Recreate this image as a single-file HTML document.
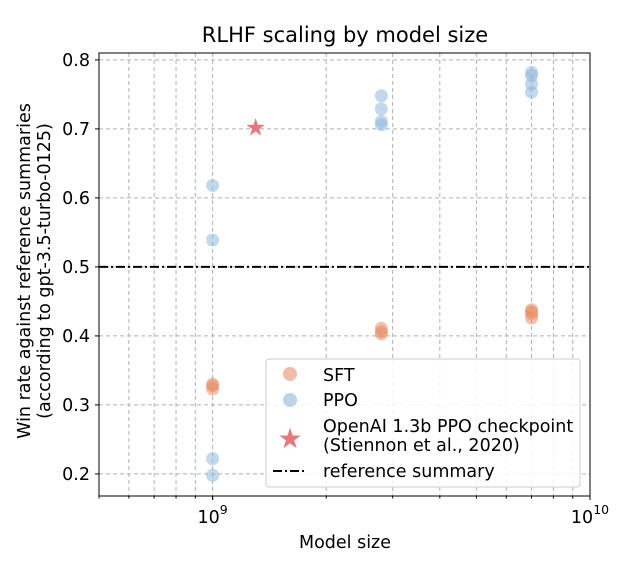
<!DOCTYPE html>
<html><head><meta charset="utf-8"><style>
body{margin:0;background:#fff}
svg{display:block;font-family:"DejaVu Sans","Liberation Sans",sans-serif}
</style></head><body>
<svg id="chart" width="626" height="564" viewBox="0 0 626 564">
<rect width="626" height="564" fill="#fff"/>
<text x="345" y="42" font-size="21" text-anchor="middle">RLHF scaling by model size</text>
<g id="grid"></g>
<g id="marks"></g>
<g id="axes"></g>
<text x="345" y="548" font-size="17.5" text-anchor="middle">Model size</text>
<text transform="translate(30,271) rotate(-90)" font-size="17.5" text-anchor="middle"><tspan x="0" dy="0">Win rate against reference summaries</tspan><tspan x="0" dy="20">(according to gpt-3.5-turbo-0125)</tspan></text>
<g>
<rect x="266" y="359" width="314" height="128" rx="3" fill="#fff" fill-opacity="0.85" stroke="#ccc"/>
<circle cx="290" cy="374" r="7" fill="#E8906A" fill-opacity="0.6"/>
<text x="323" y="381" font-size="17.5">SFT</text>
<circle cx="290" cy="400" r="7" fill="#8FB8DC" fill-opacity="0.6"/>
<text x="323" y="406" font-size="17.5">PPO</text>
<text x="290" y="448" font-size="28" fill="#E8787A" text-anchor="middle">★</text>
<text x="323" y="432" font-size="17.5">OpenAI 1.3b PPO checkpoint</text>
<text x="323" y="451" font-size="17.5">(Stiennon et al., 2020)</text>
<line x1="273" y1="471" x2="307" y2="471" stroke="#000" stroke-width="2" stroke-dasharray="9,3,2,3"/>
<text x="323" y="477" font-size="17.5">reference summary</text>
</g>
</svg>
<script>
const sftX=[1e9,1e9,1e9,2.8e9,2.8e9,2.8e9,7e9,7e9,7e9,7e9];
const sftY=[0.330,0.328,0.323,0.411,0.406,0.403,0.438,0.435,0.432,0.426];
const ppoX=[1e9,1e9,1e9,1e9,2.8e9,2.8e9,2.8e9,2.8e9,7e9,7e9,7e9,7e9];
const ppoY=[0.618,0.539,0.222,0.198,0.748,0.729,0.711,0.706,0.782,0.777,0.765,0.753];
const starX=[1.3e9];
const starY=[0.702];
const refY=[0.5];
const yTicks=[0.2,0.3,0.4,0.5,0.6,0.7,0.8];
const L=99,R=590,T=53,B=496,xmin=5e8,xmax=1e10,ymin=0.168,ymax=0.810;
const NS="http://www.w3.org/2000/svg";
function sx(v){return L+(Math.log10(v)-Math.log10(xmin))/(Math.log10(xmax)-Math.log10(xmin))*(R-L);}
function sy(v){return B-(v-ymin)/(ymax-ymin)*(B-T);}
function mk(tag,at,par){const e=document.createElementNS(NS,tag);for(const k in at)e.setAttribute(k,at[k]);document.getElementById(par).appendChild(e);return e;}
const xg=[6e8,7e8,8e8,9e8,1e9,2e9,3e9,4e9,5e9,6e9,7e9,8e9,9e9];
xg.forEach(v=>{const l=mk('line',{x1:sx(v),x2:sx(v),y1:T,y2:B,stroke:'#b0b0b0','stroke-dasharray':'4,3','stroke-width':1},'grid');

});
yTicks.forEach(v=>{const l=mk('line',{x1:L,x2:R,y1:sy(v),y2:sy(v),stroke:'#b0b0b0','stroke-dasharray':'4,3','stroke-width':1},'grid');

});
refY.forEach(v=>{const l=mk('line',{x1:L,x2:R,y1:sy(v),y2:sy(v),stroke:'#000','stroke-width':2,'stroke-dasharray':'9,3,2,3'},'marks');

});
sftX.forEach((x,i)=>{const c=mk('circle',{cx:sx(x),cy:sy(sftY[i]),r:6.5,fill:'#E8906A','fill-opacity':0.55},'marks');

});
ppoX.forEach((x,i)=>{const c=mk('circle',{cx:sx(x),cy:sy(ppoY[i]),r:6.5,fill:'#8FB8DC','fill-opacity':0.55},'marks');

});
starX.forEach((x,i)=>{const t=mk('text',{x:sx(x),y:sy(starY[i])+8,'font-size':24,fill:'#E8787A','text-anchor':'middle'},'marks');t.textContent='★';

});
const fr=mk('rect',{x:L,y:T,width:R-L,height:B-T,fill:'none',stroke:'#000','stroke-width':1},'axes');


yTicks.forEach(v=>{mk('line',{x1:L-4,x2:L,y1:sy(v),y2:sy(v),stroke:'#000'},'axes');
const t=mk('text',{x:L-9,y:sy(v)+6,'font-size':17.5,'text-anchor':'end'},'axes');t.textContent=v.toFixed(1);

});
xg.concat([5e8]).forEach(v=>{mk('line',{x1:sx(v),x2:sx(v),y1:B,y2:B+(v===1e9?4:2.5),stroke:'#000'},'axes');});
[1e9,1e10].forEach(v=>{mk('line',{x1:sx(v),x2:sx(v),y1:B,y2:B+4,stroke:'#000'},'axes');
const t=mk('text',{x:sx(v),y:B+27,'font-size':17.5,'text-anchor':'middle'},'axes');
t.innerHTML='10<tspan dy="-9" font-size="12.5">'+Math.round(Math.log10(v))+'</tspan>';

});
</script>
</body></html>
